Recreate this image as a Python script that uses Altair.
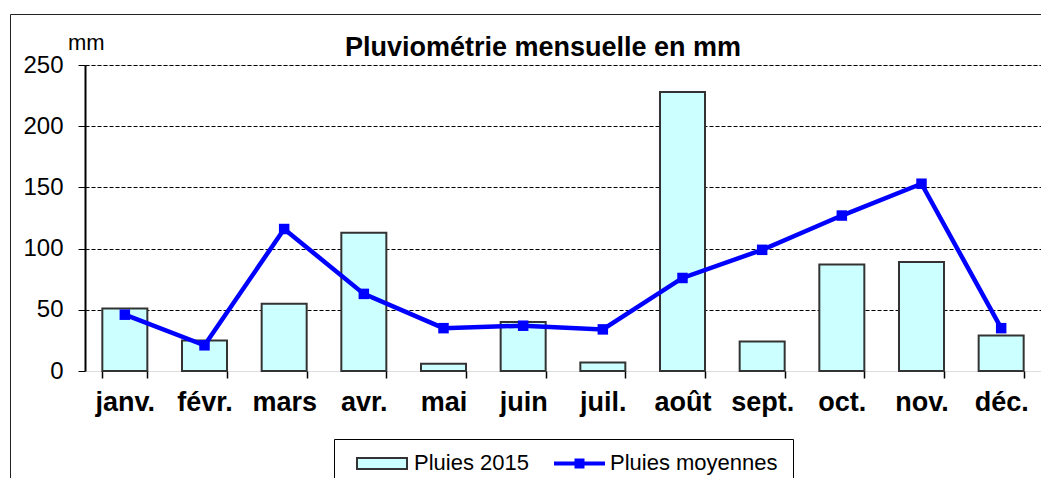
import altair as alt
import pandas as pd

months = ["janv.", "févr.", "mars", "avr.", "mai", "juin", "juil.", "août", "sept.", "oct.", "nov.", "déc."]
pluies_2015 = [51, 25, 55, 113, 6, 40, 7, 228, 24, 87, 89, 29]
pluies_moyennes = [46, 21, 116, 63, 35, 37, 34, 76, 99, 127, 153, 35]
y_ticks = [0, 50, 100, 150, 200, 250]

title_text = "Pluviométrie mensuelle en mm"
unit_text = "mm"
legend_labels = ["Pluies 2015", "Pluies moyennes"]

FONT = "Liberation Sans"
BLUE = "#0000ff"
BAR_FILL = "#ccffff"
BAR_STROKE = "#333333"

df = pd.DataFrame({"mois": months, "p2015": pluies_2015, "moy": pluies_moyennes})

x_axis = alt.Axis(
    title=None,
    labelAngle=0,
    labelFont=FONT,
    labelFontSize=27,
    labelFontWeight="bold",
    labelColor="black",
    labelPadding=11,
    domain=False,
    ticks=True,
    tickBand="extent",
    tickSize=7,
    tickColor="black",
    tickWidth=1.5,
    grid=False,
)

y_axis = alt.Axis(
    title=None,
    values=y_ticks,
    labelFont=FONT,
    labelFontSize=24,
    labelColor="black",
    labelPadding=15,
    tickSize=7,
    tickColor="black",
    tickWidth=1,
    domainColor="black",
    domainWidth=2,
    grid=True,
    gridColor="black",
    gridWidth=1,
    gridDash=[4, 2],
    gridOpacity=alt.ExprRef("datum.value == 0 ? 0 : 1"),
)

x_scale = alt.Scale(paddingInner=0.435, paddingOuter=0.2175)
y_scale = alt.Scale(domain=[0, 250], nice=False)

bars = alt.Chart(df).mark_bar(
    fill=BAR_FILL, stroke=BAR_STROKE, strokeWidth=2
).encode(
    x=alt.X("mois:N", sort=months, scale=x_scale, axis=x_axis),
    y=alt.Y("p2015:Q", scale=y_scale, axis=y_axis),
)

line = alt.Chart(df).mark_line(
    color=BLUE,
    strokeWidth=4.5,
    point=alt.OverlayMarkDef(shape="square", size=110, filled=True, color=BLUE, opacity=1),
).encode(
    x=alt.X("mois:N", sort=months, scale=x_scale, axis=x_axis),
    y=alt.Y("moy:Q", scale=y_scale, axis=y_axis),
)

one = alt.Data(values=[{}])

frame = alt.Chart(one).mark_rect(filled=False, stroke="#222222", strokeWidth=1).encode(
    x=alt.value(-74.5), x2=alt.value(1100), y=alt.value(-50.5), y2=alt.value(600)
)

title = alt.Chart(one).mark_text(
    text=title_text, font=FONT, fontSize=27, fontWeight="bold", align="center",
    baseline="alphabetic", color="black"
).encode(x=alt.value(458), y=alt.value(-9))

unit = alt.Chart(one).mark_text(
    text=unit_text, font=FONT, fontSize=22, align="left", baseline="alphabetic", color="black"
).encode(x=alt.value(-17), y=alt.value(-15))

legend_box = alt.Chart(one).mark_rect(filled=False, stroke="black", strokeWidth=1).encode(
    x=alt.value(249.5), x2=alt.value(708.5), y=alt.value(374.5), y2=alt.value(420.5)
)

leg_bar = alt.Chart(one).mark_rect(fill=BAR_FILL, stroke=BAR_STROKE, strokeWidth=2).encode(
    x=alt.value(272), x2=alt.value(322), y=alt.value(393), y2=alt.value(404)
)

leg_line = alt.Chart(one).mark_rule(color=BLUE, strokeWidth=4).encode(
    x=alt.value(469), x2=alt.value(520), y=alt.value(398.5)
)

leg_point = alt.Chart(one).mark_point(shape="square", size=100, filled=True, color=BLUE, opacity=1).encode(
    x=alt.value(494.5), y=alt.value(398.5)
)

leg_text1 = alt.Chart(one).mark_text(
    text=legend_labels[0], font=FONT, fontSize=22, align="left", baseline="alphabetic", color="black"
).encode(x=alt.value(329), y=alt.value(404.5))

leg_text2 = alt.Chart(one).mark_text(
    text=legend_labels[1], font=FONT, fontSize=22, align="left", baseline="alphabetic", color="black"
).encode(x=alt.value(525), y=alt.value(404.5))

chart = alt.layer(
    frame, bars, line, title, unit, legend_box, leg_bar, leg_line, leg_point, leg_text1, leg_text2
).properties(
    width=956,
    height=306,
    autosize=alt.AutoSizeParams(type="none"),
    padding={"left": 77, "top": 57, "right": 0, "bottom": 107},
).configure_view(stroke=None).configure(background="white")

chart.save("out.html", embed_options={"renderer": "svg", "actions": False})
